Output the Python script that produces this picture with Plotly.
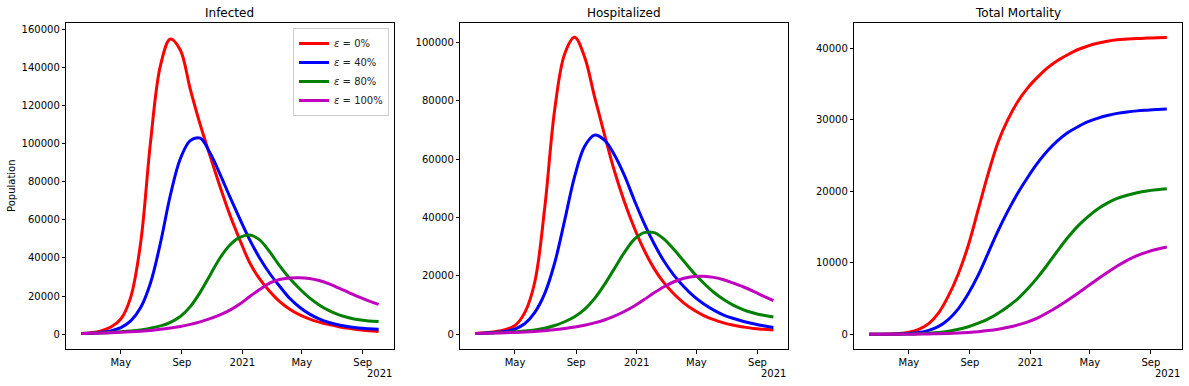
import pandas as pd
import plotly.graph_objects as go

# ---------------- data ----------------
start_date = "2020-02-11"
n_points = 31          # one value every 20 days
step = "20D"

series_labels = ["<i>ε</i> = 0%", "<i>ε</i> = 40%", "<i>ε</i> = 80%", "<i>ε</i> = 100%"]
series_colors = ["#ff0000", "#0000ff", "#008000", "#bf00bf"]
panel_titles = ["Infected", "Hospitalized", "Total Mortality"]

tick_dates = ["2020-05-01", "2020-09-01", "2021-01-01", "2021-05-01", "2021-09-01"]
tick_text = ["May", "Sep", "2021", "May", "Sep"]

infected_0 = [400, 850, 1800, 3800, 8000, 19500, 48000, 101000, 141000, 154800, 149000,
              128500, 110000, 93500, 77500, 62500, 49500, 37500, 29000, 22600, 17300,
              13300, 10300, 8100, 6400, 5100, 4000, 3100, 2400, 1850, 1450]
infected_40 = [400, 600, 1000, 1800, 3500, 7000, 14000, 27000, 48000, 73000, 92000,
               101500, 102800, 95000, 84000, 72000, 60500, 49500, 40000, 32000, 25300,
               19000, 14300, 10700, 8100, 6200, 4900, 4000, 3300, 2900, 2600]
infected_80 = [400, 550, 750, 1000, 1300, 1700, 2300, 3200, 4400, 6300, 9300,
               14500, 22000, 31000, 40000, 46800, 50800, 52000, 49500, 43300, 36000,
               29500, 24000, 19200, 15400, 12400, 10200, 8700, 7600, 7000, 6700]
infected_100 = [400, 500, 650, 850, 1050, 1300, 1600, 2000, 2600, 3300, 4100,
                5200, 6500, 8200, 10200, 12700, 15900, 19800, 23500, 26800, 28700,
                29500, 29700, 29300, 28200, 26400, 24200, 21900, 19600, 17500, 15700]

hosp_0 = [300, 500, 900, 1600, 3000, 7500, 18000, 43500, 77000, 96000, 101700,
          95000, 81500, 68500, 56000, 45500, 36500, 28800, 22500, 17600, 13800,
          10700, 8300, 6400, 5000, 3900, 3100, 2500, 2000, 1700, 1450]
hosp_40 = [300, 400, 600, 1000, 1800, 3700, 7500, 14000, 24500, 39000, 54000,
           64300, 68200, 66500, 61500, 54500, 46000, 38000, 31000, 25000, 20200,
           16300, 13000, 10400, 8300, 6600, 5400, 4400, 3600, 2900, 2350]
hosp_80 = [300, 400, 500, 650, 850, 1100, 1500, 2100, 3000, 4300, 6000,
           8500, 12200, 17000, 22500, 28000, 32500, 34800, 34800, 32600, 29000,
           25000, 21000, 17500, 14400, 11900, 9900, 8400, 7300, 6500, 5900]
hosp_100 = [300, 350, 420, 520, 650, 800, 1000, 1250, 1600, 2000, 2500,
            3100, 3900, 4900, 6200, 7800, 9700, 11900, 14200, 16300, 18000,
            19200, 19800, 19900, 19500, 18700, 17500, 16200, 14700, 13100, 11500]

deaths_0 = [0, 20, 50, 120, 300, 700, 1500, 3000, 5400, 8500, 12500,
            17500, 22500, 26900, 30100, 32600, 34500, 36000, 37300, 38300, 39100,
            39800, 40300, 40700, 41000, 41200, 41300, 41380, 41430, 41470, 41500]
deaths_40 = [0, 10, 20, 50, 120, 250, 550, 1100, 2100, 3600, 5700,
             8300, 11400, 14500, 17300, 19800, 22000, 24000, 25700, 27100, 28200,
             29000, 29700, 30200, 30600, 30900, 31100, 31250, 31350, 31430, 31500]
deaths_80 = [0, 5, 10, 20, 40, 80, 150, 260, 440, 700, 1050,
             1550, 2150, 2950, 3900, 5000, 6400, 8000, 9800, 11700, 13500,
             15100, 16400, 17500, 18350, 19000, 19450, 19800, 20050, 20220, 20350]
deaths_100 = [0, 0, 5, 10, 20, 30, 50, 80, 120, 180, 260,
              370, 520, 720, 980, 1320, 1750, 2300, 3050, 3850, 4750,
              5700, 6700, 7700, 8650, 9550, 10350, 11000, 11500, 11900, 12200]

panels = [
    [infected_0, infected_40, infected_80, infected_100],
    [hosp_0, hosp_40, hosp_80, hosp_100],
    [deaths_0, deaths_40, deaths_80, deaths_100],
]
y_ticks = [list(range(0, 160001, 20000)), list(range(0, 100001, 20000)), list(range(0, 40001, 10000))]
y_ranges = [[-7700, 163000], [-5030, 106500], [-2056, 43500]]

dates = pd.date_range(start_date, periods=n_points, freq=step)

# ---------------- figure ----------------
W, H = 1189, 386
x_px = [(66.3, 393.5), (460.3, 788.3), (854.3, 1181.7)]
y_px = (23.3, 349.0)
y_dom = [1 - y_px[1] / H, 1 - y_px[0] / H]

fig = go.Figure()
font_family = "DejaVu Sans"

for p, series in enumerate(panels):
    ax = "" if p == 0 else str(p + 1)
    for s, vals in enumerate(series):
        fig.add_trace(go.Scatter(
            x=dates, y=vals, mode="lines",
            line=dict(color=series_colors[s], width=3, shape="spline", smoothing=1.0),
            name=series_labels[s], showlegend=(p == 0),
            xaxis="x" + ax, yaxis="y" + ax,
        ))

layout = dict(
    width=W, height=H,
    margin=dict(l=0, r=0, t=0, b=0),
    paper_bgcolor="white", plot_bgcolor="white",
    font=dict(family=font_family, size=10, color="black"),
    legend=dict(
        x=389 / W, xanchor="right", y=1 - 28 / H, yanchor="top",
        bgcolor="rgba(255,255,255,0.8)", bordercolor="#cccccc", borderwidth=1,
        font=dict(size=10, color="#222222"), itemwidth=30, tracegroupgap=0,
    ),
    annotations=[],
)

for p in range(3):
    ax = "" if p == 0 else str(p + 1)
    xd = [x_px[p][0] / W, x_px[p][1] / W]
    layout["xaxis" + ax] = dict(
        domain=xd, anchor="y" + ax, type="date",
        range=["2020-01-12", "2021-11-02"],
        tickvals=tick_dates, ticktext=tick_text,
        showline=True, linecolor="black", linewidth=1, mirror=True,
        ticks="outside", ticklen=3.5, tickwidth=1, tickcolor="black",
        showgrid=False, zeroline=False, tickfont=dict(size=10, color="black"),
    )
    layout["yaxis" + ax] = dict(
        domain=y_dom, anchor="x" + ax, range=y_ranges[p],
        tickvals=y_ticks[p], tickformat="d",
        showline=True, linecolor="black", linewidth=1, mirror=True,
        ticks="outside", ticklen=3.5, tickwidth=1, tickcolor="black",
        showgrid=False, zeroline=False, tickfont=dict(size=10, color="black"),
    )
    layout["annotations"].append(dict(
        text=panel_titles[p], xref="paper", yref="paper",
        x=(xd[0] + xd[1]) / 2, y=1 - 12.5 / H, xanchor="center", yanchor="middle",
        showarrow=False, font=dict(size=12, color="black"),
    ))
    layout["annotations"].append(dict(
        text="2021", xref="x" + ax + " domain", yref="paper",
        x=1, y=1 - 373 / H, xanchor="right", yanchor="middle",
        showarrow=False, font=dict(size=10, color="black"),
    ))

layout["annotations"].append(dict(
    text="Population", xref="paper", yref="paper",
    x=12 / W, y=1 - 186 / H, xanchor="center", yanchor="middle",
    textangle=-90, showarrow=False, font=dict(size=10, color="black"),
))

fig.update_layout(**layout)
fig.write_html(
    "out.html",
    config={"displayModeBar": False},
    post_script="document.body.style.margin='0';document.body.style.overflow='hidden';",
)
